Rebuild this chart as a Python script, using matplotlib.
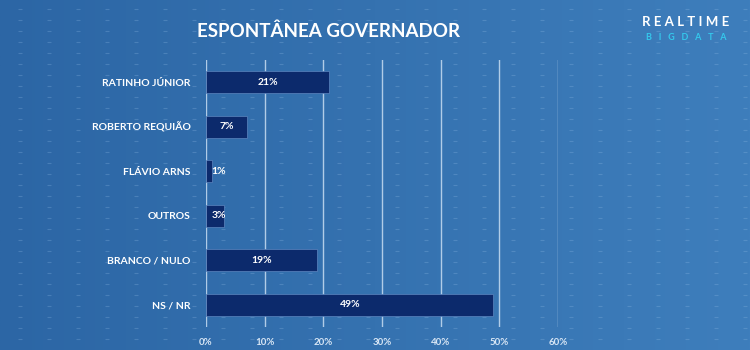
import matplotlib.pyplot as plt
import numpy as np
from matplotlib.colors import LinearSegmentedColormap

candidates = ['RATINHO JÚNIOR', 'ROBERTO REQUIÃO', 'FLÁVIO ARNS', 'OUTROS', 'BRANCO / NULO', 'NS / NR']
values = [21, 7, 1, 3, 19, 49]
xticks = [0, 10, 20, 30, 40, 50, 60]
xticklabels = ['0%', '10%', '20%', '30%', '40%', '50%', '60%']

plt.rcParams['font.family'] = ['Lato', 'DejaVu Sans']

fig = plt.figure(figsize=(7.5, 3.5), dpi=100)

# background gradient + faint dot pattern
bg = fig.add_axes([0, 0, 1, 1], zorder=0)
cmap = LinearSegmentedColormap.from_list('bg', ['#2c66a5', '#3572b0', '#3e7ebc'])
grad = np.tile(np.linspace(0, 1, 256), (16, 1))
bg.imshow(grad, aspect='auto', cmap=cmap, extent=[0, 750, 350, 0])
gx, gy = np.meshgrid(np.arange(20, 750, 29), np.arange(9, 350, 11))
bg.scatter(gx.ravel(), gy.ravel(), marker='_', s=5, color='#9cc3ea', alpha=0.25, linewidths=0.8)
bg.set_xlim(0, 750)
bg.set_ylim(350, 0)
bg.axis('off')

ax = fig.add_axes([206 / 750, 1 - 327 / 350, (558 - 206) / 750, (327 - 60) / 350], zorder=1)
ax.patch.set_alpha(0)
y = np.arange(len(candidates))
ax.barh(y, values, height=0.5, color='#0c2a6c', edgecolor='#5d86c0', linewidth=0.5, zorder=3)
for yi, v in zip(y, values):
    ax.text(max(v / 2, 2.2), yi, f'{v}%', ha='center', va='center', color='white',
            fontsize=7.5, fontweight='bold', zorder=4)

ax.set_xlim(0, 60)
ax.set_ylim(len(candidates) - 0.5, -0.5)
ax.set_xticks(xticks)
ax.set_xticklabels(xticklabels)
ax.set_yticks(y)
ax.set_yticklabels(candidates)
ax.tick_params(axis='both', length=0, colors='#e8f0fa', labelsize=7)
ax.tick_params(axis='y', pad=11, labelcolor='white', labelsize=7.5)
ax.tick_params(axis='x', pad=8, labelcolor='#d8e6f5')
for lbl in ax.get_xticklabels() + ax.get_yticklabels():
    lbl.set_fontweight('bold')
ax.grid(axis='x', color='#c8ddf2', linewidth=1.0, alpha=0.85, zorder=1)
for s in ax.spines.values():
    s.set_visible(False)

fig.text(197 / 750, 1 - 31 / 350, 'ESPONTÂNEA GOVERNADOR', color='white',
         fontsize=13.5, fontweight='bold', va='center', ha='left')
fig.text(686 / 750, 1 - 22 / 350, 'R E A L T I M E', color='white',
         fontsize=9.5, fontweight='bold', va='center', ha='center')
fig.text(686 / 750, 1 - 37 / 350, 'B   I   G   D   A   T   A', color='#35c8ec',
         fontsize=6.5, fontweight='bold', va='center', ha='center')

fig.savefig('out.png', dpi=100)
